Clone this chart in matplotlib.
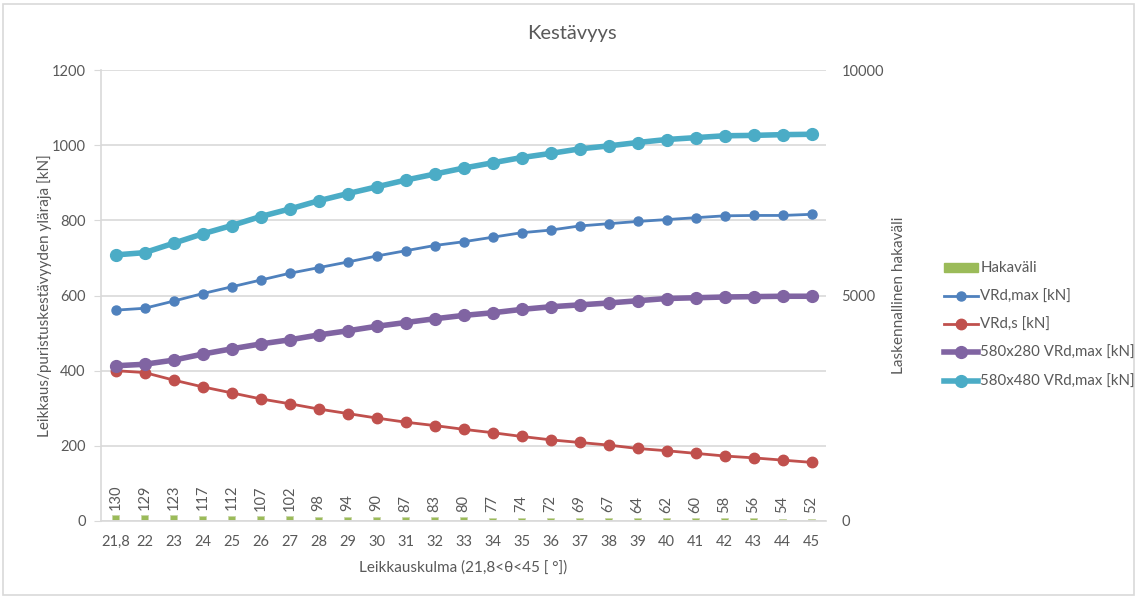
import numpy as np
import matplotlib
matplotlib.use("Agg")
import matplotlib.pyplot as plt
from matplotlib.patches import Rectangle, Patch
from matplotlib.lines import Line2D

plt.rcParams['font.family'] = ['Lato', 'DejaVu Sans']

# Shear angle categories
categories = ["21,8"] + [str(a) for a in range(22, 46)]

# Stirrup spacing (right axis)
hakavali = [130, 129, 123, 117, 112, 107, 102, 98, 94, 90, 87, 83, 80,
            77, 74, 72, 69, 67, 64, 62, 60, 58, 56, 54, 52]

# Resistances [kN] (left axis)
vrd_max = [561, 566, 585, 605, 623, 641, 659, 674, 689, 705, 719, 733, 743,
           755, 767, 774, 785, 791, 797, 802, 807, 812, 813, 813, 816]
vrd_s = [400, 395, 375, 357, 341, 325, 312, 298, 286, 274, 263, 254, 244,
         235, 225, 216, 209, 202, 193, 187, 180, 173, 168, 162, 156]
vrd_max_280 = [413, 417, 428, 444, 458, 471, 482, 495, 506, 518, 528, 538, 547,
               554, 563, 570, 575, 580, 586, 592, 594, 596, 597, 598, 598]
vrd_max_480 = [708, 714, 739, 764, 786, 810, 830, 852, 871, 889, 907, 923, 939,
               953, 967, 978, 990, 998, 1007, 1015, 1020, 1025, 1026, 1028, 1029]

TEXT = "#595959"
GRID = "#D9D9D9"
C_BAR = "#9BBB59"
C_BLUE = "#4F81BD"
C_RED = "#C0504D"
C_PURPLE = "#8064A2"
C_CYAN = "#4BACC6"

W, H = 1138, 599
fig = plt.figure(figsize=(W / 100, H / 100), dpi=100)
fig.patches.append(Rectangle((3 / W, 4 / H), (W - 7) / W, (H - 8) / H,
                             transform=fig.transFigure, fill=False,
                             edgecolor=GRID, linewidth=1.2))

left, right, top, bottom = 101, 826, 70, 521
ax = fig.add_axes([left / W, 1 - bottom / H, (right - left) / W, (bottom - top) / H])
ax2 = ax.twinx()

x = np.arange(len(categories))

# Bars on the secondary axis
ax2.bar(x, hakavali, width=0.25, color=C_BAR, edgecolor="#C8D6A8",
        linewidth=0.6, zorder=2)
for xi, v in zip(x, hakavali):
    ax2.annotate(str(v), (xi, v), xytext=(0, 4), textcoords="offset points",
                 rotation=90, ha="center", va="bottom", fontsize=10.5, color=TEXT)
ax2.set_ylim(0, 10000)
ax2.set_yticks([0, 5000, 10000])
ax2.tick_params(axis="y", length=0, colors=TEXT, labelsize=10.5, pad=11)
ax2.set_ylabel("Laskennallinen hakaväli", color=TEXT, fontsize=11, labelpad=6)

# Lines on the primary axis
ax.plot(x, vrd_max, color=C_BLUE, lw=2, marker="o", ms=6.5, zorder=3)
ax.plot(x, vrd_s, color=C_RED, lw=2, marker="o", ms=7.5, zorder=3)
ax.plot(x, vrd_max_280, color=C_PURPLE, lw=4, marker="o", ms=8.5, zorder=3)
ax.plot(x, vrd_max_480, color=C_CYAN, lw=4, marker="o", ms=8.5, zorder=3)

ax.set_zorder(ax2.get_zorder() + 1)
ax.patch.set_visible(False)

ax.set_xlim(-0.5, len(categories) - 0.5)
ax.set_ylim(0, 1200)
ax.set_yticks(np.arange(0, 1201, 200))
ax.set_xticks(x)
ax.set_xticklabels(categories)
ax.grid(axis="y", color=GRID, lw=1.2, zorder=0)
ax.set_axisbelow(True)
ax.tick_params(axis="x", length=0, colors=TEXT, labelsize=10.5, pad=10)
ax.tick_params(axis="y", length=5, colors=TEXT, labelsize=10.5, pad=6)
ax.tick_params(axis="y", color=GRID)

for a in (ax, ax2):
    for s in ("top", "right"):
        a.spines[s].set_visible(False)
ax2.spines["left"].set_visible(False)
ax2.spines["bottom"].set_visible(False)
ax.spines["left"].set_color(GRID)
ax.spines["bottom"].set_color(GRID)
ax.spines["left"].set_linewidth(1.2)
ax.spines["bottom"].set_linewidth(1.2)

ax.set_ylabel("Leikkaus/puristuskestävyyden yläraja [kN]", color=TEXT, fontsize=11, labelpad=0)
ax.set_xlabel("Leikkauskulma (21,8<θ<45 [ °])", color=TEXT, fontsize=11, labelpad=8)

fig.text(572 / W, 1 - 33 / H, "Kestävyys", ha="center", va="center",
         fontsize=14.5, color=TEXT)

handles = [
    Patch(facecolor=C_BAR, edgecolor=C_BAR),
    Line2D([], [], color=C_BLUE, lw=2, marker="o", ms=6.5),
    Line2D([], [], color=C_RED, lw=2, marker="o", ms=7.5),
    Line2D([], [], color=C_PURPLE, lw=4, marker="o", ms=8.5),
    Line2D([], [], color=C_CYAN, lw=4, marker="o", ms=8.5),
]
labels = ["Hakaväli", "VRd,max [kN]", "VRd,s [kN]",
          "580x280 VRd,max [kN]", "580x480 VRd,max [kN]"]
leg = fig.legend(handles, labels, loc="center left",
                 bbox_to_anchor=(930 / W, 1 - 325 / H), frameon=False,
                 fontsize=10.8, handlelength=2.3, handleheight=0.55,
                 labelspacing=0.95, handletextpad=0.15)
for t in leg.get_texts():
    t.set_color(TEXT)

fig.savefig("out.png", dpi=100)
